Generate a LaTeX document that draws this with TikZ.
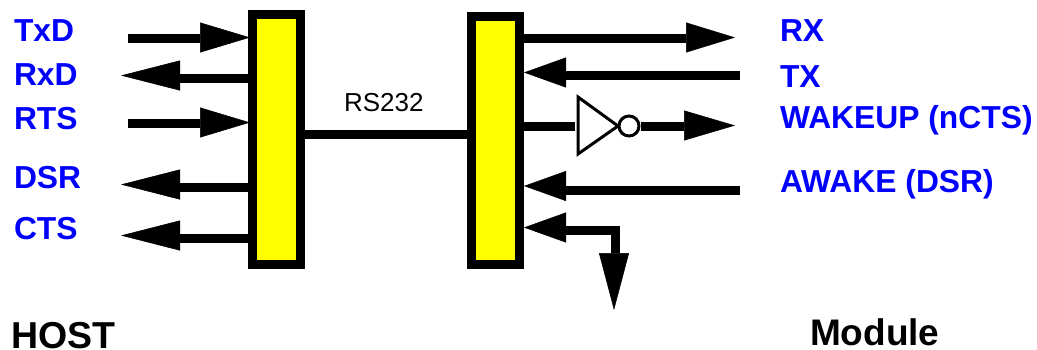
\documentclass[tikz,border=0pt]{standalone}
\usepackage{fontspec}
\setmainfont{Liberation Sans}
\usetikzlibrary{arrows.meta}
\definecolor{sigblue}{RGB}{0,0,255}
\definecolor{baryellow}{RGB}{255,255,0}
\tikzset{
  bar/.style={draw=black,fill=baryellow,line width=9pt,rectangle,inner sep=0pt,outer sep=0pt,minimum width=48pt},
  wire/.style={draw=black,line width=9pt},
  headh/.style={line width=0.5pt,draw=black,-{Triangle[length=#1,width=30pt,fill=black]},shorten >=0pt},
  sig/.style={anchor=base west,inner sep=0pt,outer sep=0pt,text=sigblue,font=\fontsize{31.8}{32}\selectfont\bfseries},
  side/.style={anchor=base west,inner sep=0pt,outer sep=0pt,text=black,font=\fontsize{37}{37}\selectfont\bfseries},
  bus/.style={anchor=base west,inner sep=0pt,outer sep=0pt,text=black,font=\fontsize{26}{26}\selectfont},
  gate/.style={draw=black,fill=white,line width=3pt,line join=miter}
}
\begin{document}
\begin{tikzpicture}[x=1pt,y=-1pt]
\useasboundingbox (0,0) rectangle (1037,349);
% bars
\node[bar,minimum height=250pt] (hostbar) at (276.5,139.5) {};
\node[bar,minimum height=248pt] (modbar) at (495.5,140.5) {};
\draw[wire] (hostbar.east |- 0,134.5) coordinate (busa) -- (modbar.west |- 0,134.5) coordinate (busb);
% left side: inputs
\coordinate (txdS) at (128,38); \coordinate (txdB) at (200,37.5); \coordinate (txdT) at (250,37.5);
\draw[wire] (txdS) -- (txdB |- txdS);
\draw[headh=50pt] (txdB) -- (txdT);
\coordinate (rtsS) at (128,123); \coordinate (rtsB) at (200,122.5); \coordinate (rtsT) at (250,122.5);
\draw[wire] (rtsS) -- (rtsB |- rtsS);
\draw[headh=50pt] (rtsB) -- (rtsT);
% left side: outputs
\coordinate (rxdB) at (180,75.5); \coordinate (rxdT) at (121,75.5);
\draw[wire] (hostbar.west |- 0,78) -- (180,78);
\draw[headh=59pt] (rxdB) -- (rxdT);
\coordinate (dsrB) at (180,184.5); \coordinate (dsrT) at (121,184.5);
\draw[wire] (hostbar.west |- 0,187) -- (180,187);
\draw[headh=59pt] (dsrB) -- (dsrT);
\coordinate (ctsB) at (180,235.5); \coordinate (ctsT) at (121,235.5);
\draw[wire] (hostbar.west |- 0,238) -- (180,238);
\draw[headh=59pt] (ctsB) -- (ctsT);
% right side
\coordinate (rxB) at (686,37.5); \coordinate (rxT) at (735,37.5);
\draw[wire] (modbar.east |- 0,38) -- (686,38);
\draw[headh=49pt] (rxB) -- (rxT);
\coordinate (txS) at (740,75.5); \coordinate (txB) at (566,72.5); \coordinate (txT) at (524,72.5);
\draw[wire] (txS) -- (txB |- txS);
\draw[headh=42pt] (txB) -- (txT);
% inverter
\draw[wire] (modbar.east |- 0,126) -- (575,126);
\draw[gate] (578,97) -- (618,126) -- (578,154) -- cycle;
\node[circle,gate,inner sep=0pt,minimum size=20pt] (bubble) at (629,126) {};
\draw[wire] (bubble.east) -- (684,126);
\coordinate (wkB) at (684,125.5); \coordinate (wkT) at (735,125.5);
\draw[headh=51pt] (wkB) -- (wkT);
% awake
\coordinate (awS) at (740,190); \coordinate (awB) at (566,186); \coordinate (awT) at (524,186);
\draw[wire] (awS) -- (awB |- awS);
\draw[headh=42pt] (awB) -- (awT);
% bottom
\coordinate (stB) at (566,227.5); \coordinate (stT) at (524,227.5);
\coordinate (corner) at (615.5,230); \coordinate (dnB) at (614,253); \coordinate (dnT) at (614,310);
\draw[wire,line join=miter] (566,230) -- (corner) -- (corner |- dnB);
\draw[headh=42pt] (stB) -- (stT);
\draw[headh=57pt] (dnB) -- (dnT);
% labels
\node[bus] (rs) at (344,111) {RS232};
\node[sig] (l1) at (14,41) {TxD};
\node[sig] (l2) at (14,85) {RxD};
\node[sig] (l3) at (14,129) {RTS};
\node[sig] (l4) at (14,188) {DSR};
\node[sig] (l5) at (14,239) {CTS};
\node[sig] (r1) at (780,41) {RX};
\node[sig] (r2) at (780,87) {TX};
\node[sig] (r3) at (780,128) {WAKEUP (nCTS)};
\node[sig] (r4) at (780,192) {AWAKE (DSR)};
\node[side] (host) at (11,348) {\fontsize{37.5}{37.5}\selectfont HOST};
\node[side] (mod) at (810,345.5) {Module};
\end{tikzpicture}
\end{document}
